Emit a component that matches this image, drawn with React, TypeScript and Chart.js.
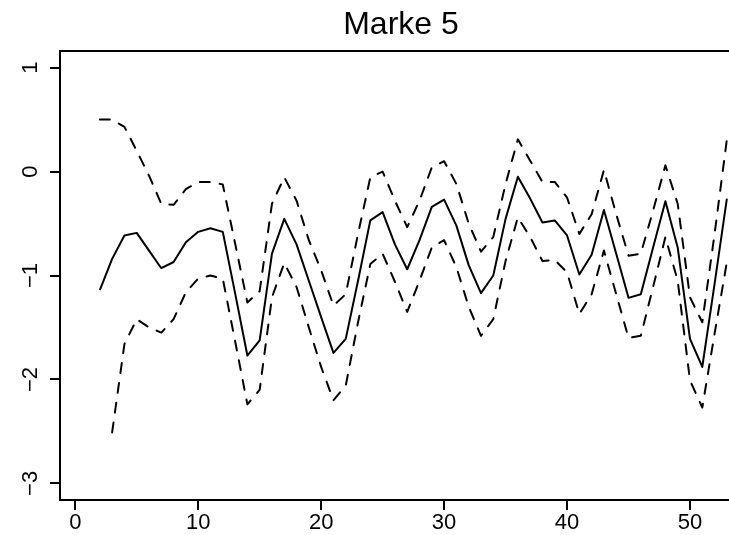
import React, { useEffect, useRef } from "react";
import { Chart, registerables } from "chart.js";

Chart.register(...registerables);

const TITLE = "Marke 5";

const xValues = [
  2, 3, 4, 5, 6, 7, 8, 9, 10, 11, 12, 13, 14, 15, 16, 17, 18, 19, 20, 21, 22, 23, 24, 25, 26, 27,
  28, 29, 30, 31, 32, 33, 34, 35, 36, 37, 38, 39, 40, 41, 42, 43, 44, 45, 46, 47, 48, 49, 50, 51,
  52, 53,
];

const estimate = [
  -1.14, -0.84, -0.615, -0.59, -0.76, -0.93, -0.87, -0.68, -0.58, -0.545, -0.58, -1.17, -1.77,
  -1.625, -0.79, -0.455, -0.7, -1.05, -1.4, -1.745, -1.61, -1.05, -0.47, -0.39, -0.7, -0.94,
  -0.66, -0.34, -0.27, -0.52, -0.9, -1.17, -1.0, -0.455, -0.05, -0.26, -0.49, -0.47, -0.615,
  -0.99, -0.8, -0.37, -0.79, -1.215, -1.18, -0.73, -0.285, -0.73, -1.61, -1.88, -1.08, -0.26,
];

const upper = [
  0.5, 0.5, 0.43, 0.2, -0.04, -0.31, -0.32, -0.17, -0.1, -0.1, -0.125, -0.69, -1.26, -1.15,
  -0.31, -0.055, -0.28, -0.66, -0.95, -1.29, -1.18, -0.6, -0.055, 0.0, -0.28, -0.535, -0.28,
  0.04, 0.1, -0.12, -0.5, -0.77, -0.63, -0.12, 0.31, 0.105, -0.1, -0.1, -0.25, -0.6, -0.41,
  0.015, -0.41, -0.81, -0.79, -0.375, 0.06, -0.31, -1.21, -1.45, -0.6, 0.31,
];

const lower = [
  null, -2.51, -1.66, -1.42, -1.5, -1.55, -1.42, -1.16, -1.03, -1.0, -1.03, -1.63, -2.24, -2.1,
  -1.21, -0.88, -1.11, -1.5, -1.88, -2.2, -2.06, -1.45, -0.89, -0.79, -1.06, -1.35, -1.05,
  -0.73, -0.66, -0.92, -1.3, -1.58, -1.42, -0.86, -0.44, -0.63, -0.86, -0.85, -0.97, -1.37,
  -1.18, -0.76, -1.18, -1.6, -1.58, -1.11, -0.63, -1.05, -2.01, -2.27, -1.56, -0.87,
];

const xTicks = [0, 10, 20, 30, 40, 50];
const yTicks = [-3, -2, -1, 0, 1];

const FONT = "'Liberation Sans', Arial, Helvetica, sans-serif";

const toPoints = (ys: (number | null)[]) => xValues.map((x, i) => ({ x, y: ys[i] }));

const boxPlugin = {
  id: "rbox",
  afterDatasetsDraw(chart: any) {
    const { ctx, chartArea: a } = chart;
    ctx.save();
    ctx.strokeStyle = "#000";
    ctx.lineWidth = 2;
    ctx.strokeRect(a.left, a.top, a.right - a.left, a.bottom - a.top);
    ctx.restore();
  },
};

export default function App() {
  const ref = useRef<HTMLCanvasElement | null>(null);

  useEffect(() => {
    if (!ref.current) return;
    const lineBase = {
      borderColor: "#000",
      backgroundColor: "#000",
      borderWidth: 2,
      pointRadius: 0,
      tension: 0,
      fill: false,
      spanGaps: false,
      borderJoinStyle: "round" as const,
    };
    const chart = new Chart(ref.current, {
      type: "line",
      data: {
        datasets: [
          { ...lineBase, label: "estimate", data: toPoints(estimate) },
          {
            ...lineBase,
            label: "upper",
            data: toPoints(upper),
            borderDash: [10, 10],
            borderCapStyle: "round",
          },
          {
            ...lineBase,
            label: "lower",
            data: toPoints(lower),
            borderDash: [10, 10],
            borderCapStyle: "round",
          },
        ],
      },
      options: {
        animation: false,
        responsive: false,
        events: [],
        layout: { padding: { left: 0, right: 18, top: 0, bottom: 0 } },
        plugins: {
          legend: { display: false },
          tooltip: { enabled: false },
          title: {
            display: true,
            text: TITLE,
            fullSize: false,
            color: "#000",
            font: { family: FONT, size: 32, weight: "normal" },
            padding: { top: 6, bottom: 6.6 },
          },
        },
        scales: {
          x: {
            type: "linear",
            position: "bottom",
            min: -1.24,
            max: 54.23,
            afterFit: (s: any) => {
              s.height = 35;
            },
            afterBuildTicks: (s: any) => {
              s.ticks = xTicks.map((value) => ({ value }));
            },
            border: { display: false },
            grid: {
              drawOnChartArea: false,
              drawTicks: true,
              tickLength: 10,
              color: "#000",
              lineWidth: 2,
            },
            ticks: {
              autoSkip: false,
              maxRotation: 0,
              minRotation: 0,
              padding: 0,
              color: "#000",
              font: { family: FONT, size: 22 },
              callback: (v: any) => String(v),
            },
          },
          y: {
            type: "linear",
            position: "left",
            min: -3.16,
            max: 1.16,
            afterFit: (s: any) => {
              s.width = 60;
            },
            afterBuildTicks: (s: any) => {
              s.ticks = yTicks.map((value) => ({ value }));
            },
            border: { display: false },
            grid: {
              drawOnChartArea: false,
              drawTicks: true,
              tickLength: 10,
              color: "#000",
              lineWidth: 2,
            },
            ticks: {
              autoSkip: false,
              minRotation: 90,
              maxRotation: 90,
              crossAlign: "center",
              padding: 7,
              color: "#000",
              font: { family: FONT, size: 22 },
              callback: (v: any) => String(v).replace("-", "\u2212"),
            },
          },
        },
      },
      plugins: [boxPlugin],
    });
    return () => chart.destroy();
  }, []);

  return (
    <div
      style={{
        position: "fixed",
        left: 0,
        top: 0,
        width: 729,
        height: 535,
        overflow: "hidden",
        background: "#fff",
      }}
    >
      <canvas ref={ref} width={760} height={535} style={{ display: "block" }} />
    </div>
  );
}
